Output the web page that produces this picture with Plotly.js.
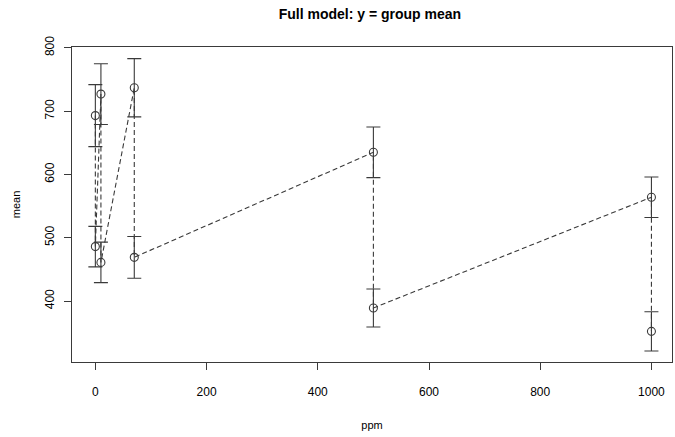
<!DOCTYPE html>
<html><head><meta charset="utf-8">
<script src="https://cdn.plot.ly/plotly-3.0.1.min.js"></script>
<style>body{margin:0;background:#fff}#c{width:675px;height:437px}</style>
</head><body><div id="c"></div>
<script>
// group means, ordered as plotted (for each ppm: first group, second group)
const ppm = [0, 0, 10, 10, 70, 70, 500, 500, 1000, 1000];
const groupMean = [693, 486, 727, 461, 737, 469, 635, 389, 564, 352];
const halfWidth = [49, 32, 48, 32, 46, 33, 40, 30, 32, 31];
const xTicks = [0, 200, 400, 600, 800, 1000];
const yTicks = [400, 500, 600, 700, 800];

const ink = '#3a3a3a';
const font = 'Liberation Sans, Arial, sans-serif';

const traces = [{
  x: ppm, y: groupMean, type: 'scatter', mode: 'lines+markers',
  line: {color: ink, width: 1.1, dash: '5px,3px'},
  marker: {symbol: 'circle-open', size: 8, color: ink, line: {width: 1.1, color: ink}},
  error_y: {type: 'data', array: halfWidth, visible: true, color: ink, thickness: 1.1, width: 7},
  showlegend: false, hoverinfo: 'skip'
}];

const layout = {
  width: 675, height: 437,
  margin: {l: 72, r: 3, t: 47, b: 75},
  paper_bgcolor: '#fff', plot_bgcolor: '#fff',
  font: {family: font, color: '#000', size: 12},
  title: {text: '<b>Full model: y = group mean</b>', x: 0.548, xanchor: 'center', y: 0.968, yanchor: 'middle',
          font: {family: font, size: 14, color: '#000'}},
  xaxis: {
    range: [-42, 1037], tickvals: xTicks, ticktext: xTicks.map(String),
    showgrid: false, zeroline: false, showline: true, mirror: true, linecolor: ink, linewidth: 1,
    ticks: 'outside', ticklen: 7, tickcolor: ink, tickwidth: 1, ticklabelstandoff: 12,
    tickfont: {size: 12, family: font, color: '#000'},
    title: {text: 'ppm', standoff: 22, font: {size: 11, family: font, color: '#000'}}
  },
  yaxis: {
    range: [303.6, 801.4], tickvals: yTicks, ticktext: yTicks.map(String), tickangle: -90,
    showgrid: false, zeroline: false, showline: true, mirror: true, linecolor: ink, linewidth: 1,
    ticks: 'outside', ticklen: 7, tickcolor: ink, tickwidth: 1, ticklabelstandoff: 5,
    tickfont: {size: 12, family: font, color: '#000'},
    title: {text: 'mean', standoff: 20, font: {size: 11, family: font, color: '#000'}}
  }
};

Plotly.newPlot('c', traces, layout, {displayModeBar: false, staticPlot: true});
</script></body></html>
